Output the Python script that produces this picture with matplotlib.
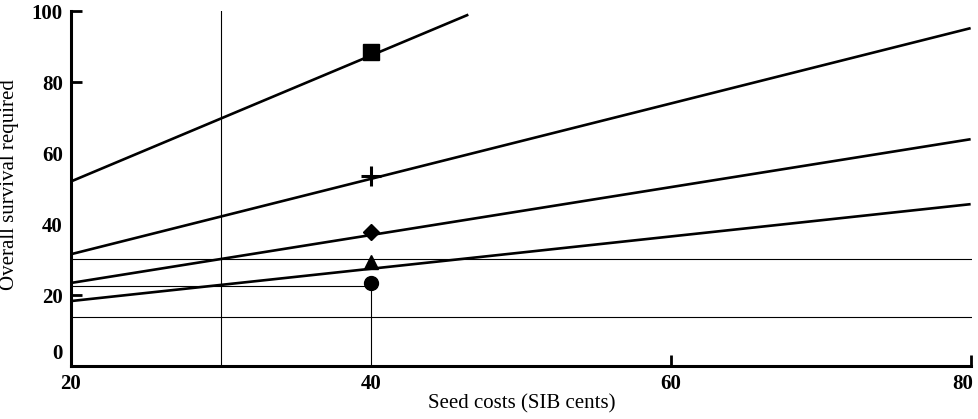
import matplotlib
matplotlib.use("Agg")
import matplotlib.pyplot as plt
import matplotlib.transforms as mtransforms

# Data
line_square_x = [20, 46.5]
line_square_y = [52.0, 99.0]
line_plus_x = [20, 80]
line_plus_y = [31.5, 95.2]
line_diamond_x = [20, 80]
line_diamond_y = [23.4, 63.9]
line_triangle_x = [20, 80]
line_triangle_y = [18.3, 45.6]

marker_x = 40
marker_values = {"s": 88.5, "+": 53.5, "D": 37.7, "^": 29.3, "o": 23.4}

hline_full = [30.1, 13.9]
hline_partial = 22.5  # from x=20 to x=40
vline_30 = 30
vline_40 = 40

xticks = [20, 40, 60, 80]
yticks = [0, 20, 40, 60, 80, 100]

plt.rcParams['font.family'] = ['Liberation Serif', 'DejaVu Serif']

fig = plt.figure(figsize=(9.79, 4.19), dpi=100)
ax = fig.add_axes([0.0725, 0.1265, 0.9205, 0.847])

thick = 1.9
thin = 0.8

# reference lines
for h in hline_full:
    ax.plot([20, 80], [h, h], color='black', lw=thin, zorder=1)
ax.plot([20, 40], [hline_partial, hline_partial], color='black', lw=thin, zorder=1)
ax.plot([vline_30, vline_30], [0, 100], color='black', lw=thin, zorder=1)
ax.plot([vline_40, vline_40], [0, marker_values["o"]], color='black', lw=thin, zorder=1)

# main lines
for xs, ys in [(line_square_x, line_square_y), (line_plus_x, line_plus_y),
               (line_diamond_x, line_diamond_y), (line_triangle_x, line_triangle_y)]:
    ax.plot(xs, ys, color='black', lw=thick, zorder=2, solid_capstyle='butt')

# markers
ms = {"s": 11.5, "+": 14, "D": 8.5, "^": 10, "o": 10}
for m, v in marker_values.items():
    ax.plot([marker_x], [v], marker=m, color='black', markersize=ms[m],
            markeredgewidth=2.2 if m == "+" else 1, linestyle='none', zorder=3)

ax.set_xlim(20, 80.1)
ax.set_ylim(0, 100)
ax.spines['top'].set_visible(False)
ax.spines['right'].set_visible(False)
ax.spines['left'].set_linewidth(2.2)
ax.spines['bottom'].set_linewidth(2.2)
ax.spines['bottom'].set_bounds(20, 80)

ax.set_xticks(xticks)
ax.set_yticks(yticks)
ax.tick_params(direction='in', length=8, width=2, labelsize=15, pad=6)
for lab in ax.get_xticklabels() + ax.get_yticklabels():
    lab.set_fontweight('bold')

# hide ticks not drawn in the reference
for t, v in zip(ax.yaxis.get_major_ticks(), yticks):
    if v not in (20, 80, 100):
        t.tick1line.set_visible(False)
for t, v in zip(ax.xaxis.get_major_ticks(), xticks):
    if v not in (60, 80):
        t.tick1line.set_visible(False)

# "0" label sits slightly higher in reference
ylabs = ax.get_yticklabels()
offset = mtransforms.ScaledTranslation(0, 14 / 100, fig.dpi_scale_trans)
ylabs[0].set_transform(ylabs[0].get_transform() + offset)

# "80" label sits slightly left of its tick
xlabs = ax.get_xticklabels()
offx = mtransforms.ScaledTranslation(-8 / 100, 0, fig.dpi_scale_trans)
xlabs[-1].set_transform(xlabs[-1].get_transform() + offx)

ax.set_xlabel("Seed costs (SIB cents)", fontsize=15, labelpad=0)
ax.set_ylabel("Overall survival required", fontsize=15)
ax.yaxis.set_label_coords(-0.058, 0.51)

fig.savefig("out.png", dpi=100)
